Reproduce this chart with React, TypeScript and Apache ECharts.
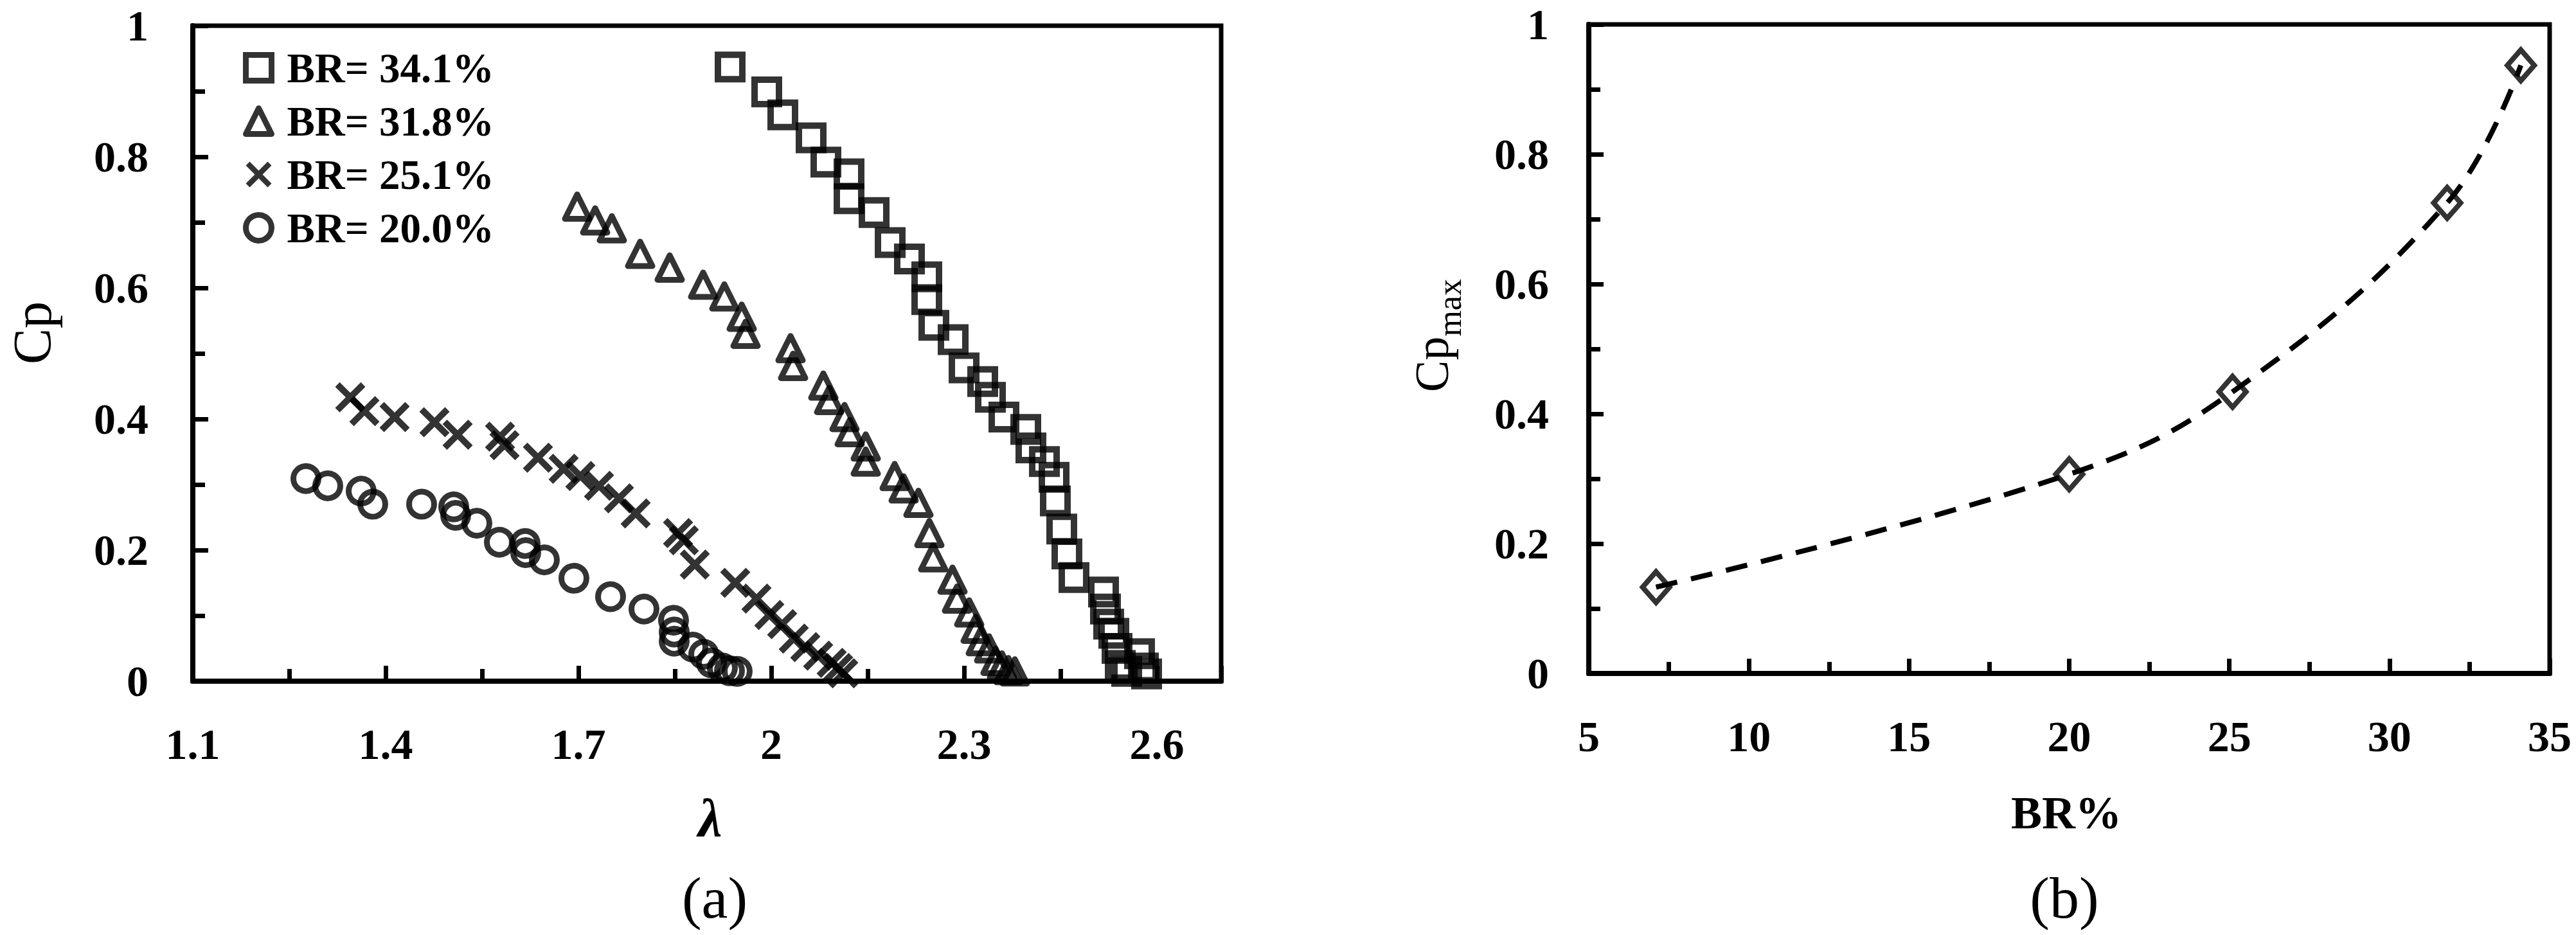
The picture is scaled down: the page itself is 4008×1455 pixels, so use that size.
import React, { useEffect, useRef } from "react";
import * as echarts from "echarts";

// ---------- data: panel (a) Cp vs tip speed ratio ----------
const seriesNames = ["BR= 34.1%", "BR= 31.8%", "BR= 25.1%", "BR= 20.0%"];

const lambda341 = [1.936, 1.993, 2.018, 2.062, 2.085, 2.121, 2.121, 2.16, 2.185, 2.215, 2.242, 2.242, 2.253, 2.283, 2.3, 2.329, 2.341, 2.362, 2.396, 2.404, 2.425, 2.44, 2.442, 2.452, 2.46, 2.471, 2.517, 2.52, 2.525, 2.533, 2.538, 2.573, 2.543, 2.579, 2.553, 2.584];
const cp341 = [0.937, 0.899, 0.864, 0.829, 0.792, 0.774, 0.736, 0.715, 0.669, 0.644, 0.617, 0.582, 0.543, 0.521, 0.478, 0.457, 0.433, 0.403, 0.384, 0.356, 0.335, 0.311, 0.275, 0.232, 0.194, 0.158, 0.136, 0.11, 0.087, 0.073, 0.05, 0.042, 0.024, 0.02, 0.015, 0.011];

const lambda318 = [1.698, 1.726, 1.752, 1.796, 1.842, 1.894, 1.927, 1.954, 1.96, 2.03, 2.034, 2.081, 2.09, 2.114, 2.122, 2.147, 2.147, 2.192, 2.206, 2.229, 2.246, 2.252, 2.282, 2.289, 2.308, 2.318, 2.326, 2.339, 2.349, 2.359, 2.369, 2.379];
const cp318 = [0.724, 0.703, 0.691, 0.652, 0.631, 0.605, 0.587, 0.556, 0.53, 0.508, 0.481, 0.451, 0.429, 0.403, 0.38, 0.358, 0.335, 0.313, 0.294, 0.272, 0.226, 0.189, 0.155, 0.126, 0.105, 0.08, 0.061, 0.05, 0.031, 0.024, 0.017, 0.015];

const lambda251 = [1.345, 1.367, 1.414, 1.476, 1.512, 1.578, 1.585, 1.637, 1.677, 1.703, 1.732, 1.763, 1.789, 1.855, 1.864, 1.881, 1.944, 1.977, 1.997, 2.017, 2.035, 2.053, 2.073, 2.094, 2.104, 2.112];
const cp251 = [0.433, 0.412, 0.403, 0.395, 0.376, 0.373, 0.36, 0.341, 0.324, 0.313, 0.298, 0.279, 0.256, 0.226, 0.215, 0.178, 0.15, 0.126, 0.101, 0.087, 0.065, 0.052, 0.039, 0.028, 0.02, 0.012];

const lambda200 = [1.276, 1.31, 1.362, 1.38, 1.456, 1.506, 1.509, 1.542, 1.577, 1.617, 1.618, 1.647, 1.693, 1.75, 1.802, 1.848, 1.849, 1.849, 1.878, 1.895, 1.907, 1.924, 1.935, 1.947];
const cp200 = [0.309, 0.298, 0.29, 0.27, 0.27, 0.266, 0.253, 0.241, 0.212, 0.21, 0.196, 0.185, 0.157, 0.129, 0.11, 0.093, 0.075, 0.061, 0.052, 0.041, 0.028, 0.02, 0.016, 0.015];

// ---------- data: panel (b) Cp_max vs blockage ratio ----------
const brPercent = [7.1, 20.0, 25.1, 31.8, 34.1];
const cpMax = [0.133, 0.307, 0.434, 0.725, 0.937];

const SERIF = "Liberation Serif, Times New Roman, serif";
const X_PATH =
  "path://M0 15 L15 0 L50 35 L85 0 L100 15 L65 50 L100 85 L85 100 L50 65 L15 100 L0 85 L35 50 Z";
const HOLLOW = "rgba(0,0,0,0)";

const zip = (xs: number[], ys: number[]) => xs.map((x, i) => [x, ys[i]]);

function buildOption() {
  const tickLabel = (margin: number) => ({
    fontFamily: SERIF,
    fontWeight: "bold",
    fontSize: 68,
    color: "#000",
    margin,
  });
  const axisCommon = {
    axisLine: { show: true, onZero: false, lineStyle: { color: "#000", width: 8 } },
    axisTick: { show: true, inside: true, length: 24, lineStyle: { color: "#000", width: 7 } },
    minorTick: { show: true, splitNumber: 2, length: 19, lineStyle: { color: "#000", width: 7 } },
    splitLine: { show: false },
  };
  const textStyle = (font: string, text: string) => ({
    text,
    font,
    fill: "#000",
    align: "center",
    verticalAlign: "middle",
    textAlign: "center",
    textVerticalAlign: "middle",
  });

  return {
    animation: false,
    backgroundColor: "#ffffff",
    grid: [
      { left: 300, top: 40, width: 1600, height: 1020, show: true, borderColor: "#000", borderWidth: 7, backgroundColor: "transparent", containLabel: false, outerBoundsMode: "none" },
      { left: 2472, top: 38, width: 1495, height: 1010, show: true, borderColor: "#000", borderWidth: 7, backgroundColor: "transparent", containLabel: false, outerBoundsMode: "none" },
    ],
    xAxis: [
      {
        type: "value", gridIndex: 0, min: 1.1, max: 2.7, interval: 0.3,
        ...axisCommon,
        axisLabel: { ...tickLabel(64), showMaxLabel: false },
      },
      {
        type: "value", gridIndex: 1, min: 5, max: 35, interval: 5,
        ...axisCommon,
        axisTick: { show: true, inside: true, length: 23, lineStyle: { color: "#000", width: 7 } },
        minorTick: { show: true, splitNumber: 2, length: 18, lineStyle: { color: "#000", width: 7 } },
        axisLabel: tickLabel(64),
      },
    ],
    yAxis: [
      {
        type: "value", gridIndex: 0, min: 0, max: 1, interval: 0.2,
        ...axisCommon,
        axisLabel: tickLabel(69),
      },
      {
        type: "value", gridIndex: 1, min: 0, max: 1, interval: 0.2,
        ...axisCommon,
        axisTick: { show: true, inside: true, length: 23, lineStyle: { color: "#000", width: 7 } },
        minorTick: { show: true, splitNumber: 2, length: 18, lineStyle: { color: "#000", width: 7 } },
        axisLabel: tickLabel(62),
      },
    ],
    legend: {
      orient: "vertical",
      left: 378,
      top: 64,
      padding: 0,
      itemGap: 0,
      itemWidth: 40,
      itemHeight: 40,
      symbolKeepAspect: true,
      selectedMode: false,
      textStyle: {
        fontFamily: SERIF, fontWeight: "bold", fontSize: 65, color: "#000",
        lineHeight: 83, padding: [0, 0, 0, 19],
      },
      data: [
        { name: seriesNames[0], itemStyle: { color: HOLLOW, borderColor: "#000", borderWidth: 9 } },
        { name: seriesNames[1], itemStyle: { color: HOLLOW, borderColor: "#000", borderWidth: 9 } },
        { name: seriesNames[2], itemStyle: { color: "#000", borderColor: "#000", borderWidth: 0 } },
        { name: seriesNames[3], itemStyle: { color: HOLLOW, borderColor: "#000", borderWidth: 9 } },
      ],
    },
    series: [
      {
        name: seriesNames[0], type: "scatter", xAxisIndex: 0, yAxisIndex: 0,
        data: zip(lambda341, cp341), symbol: "rect", symbolSize: 38,
        itemStyle: { color: HOLLOW, borderColor: "#000", borderWidth: 10 },
        emphasis: { disabled: true },
      },
      {
        name: seriesNames[1], type: "scatter", xAxisIndex: 0, yAxisIndex: 0,
        data: zip(lambda318, cp318), symbol: "triangle", symbolSize: [38, 38],
        itemStyle: { color: HOLLOW, borderColor: "#000", borderWidth: 9, borderJoin: "round" },
        emphasis: { disabled: true },
      },
      {
        name: seriesNames[2], type: "scatter", xAxisIndex: 0, yAxisIndex: 0,
        data: zip(lambda251, cp251), symbol: X_PATH, symbolSize: 47,
        itemStyle: { color: "#000", borderWidth: 0 },
        emphasis: { disabled: true },
      },
      {
        name: seriesNames[3], type: "scatter", xAxisIndex: 0, yAxisIndex: 0,
        data: zip(lambda200, cp200), symbol: "circle", symbolSize: 39,
        itemStyle: { color: HOLLOW, borderColor: "#000", borderWidth: 9 },
        emphasis: { disabled: true },
      },
      {
        name: "trend", type: "line", xAxisIndex: 1, yAxisIndex: 1,
        data: zip(brPercent, cpMax), smooth: 0.4, showSymbol: false, symbol: "none",
        lineStyle: { color: "#000", width: 8, type: [34, 22] },
        emphasis: { disabled: true }, z: 2,
      },
      {
        name: "Cpmax", type: "scatter", xAxisIndex: 1, yAxisIndex: 1,
        data: zip(brPercent, cpMax), symbol: "diamond", symbolSize: [42, 48],
        itemStyle: { color: HOLLOW, borderColor: "#000", borderWidth: 8 },
        emphasis: { disabled: true }, z: 3,
      },
    ],
    graphic: [
      { type: "text", x: 50, y: 518, rotation: Math.PI / 2, style: textStyle(`84px ${SERIF}`, "Cp") },
      { type: "text", x: 1105, y: 1272, style: textStyle(`italic bold 84px ${SERIF}`, "λ") },
      { type: "text", x: 1112, y: 1397, style: textStyle(`92px ${SERIF}`, "(a)") },
      { type: "text", x: 3215, y: 1265, style: textStyle(`bold 72px ${SERIF}`, "BR%") },
      { type: "text", x: 3212, y: 1397, style: textStyle(`92px ${SERIF}`, "(b)") },
      {
        type: "text", x: 2244, y: 522, rotation: Math.PI / 2,
        style: {
          text: "{a|Cp}{b|max}",
          align: "center", verticalAlign: "middle", textAlign: "center", textVerticalAlign: "middle",
          fill: "#000",
          rich: {
            a: { fontFamily: SERIF, fontSize: 74, lineHeight: 74, padding: [0, 0, 16, 0], verticalAlign: "bottom", fill: "#000", color: "#000" },
            b: { fontFamily: SERIF, fontSize: 52, lineHeight: 52, verticalAlign: "bottom", fill: "#000", color: "#000" },
          },
        },
      },
    ],
  };
}

export default function App() {
  const ref = useRef<HTMLDivElement>(null);
  useEffect(() => {
    document.body.style.margin = "0";
    if (!ref.current) return;
    const chart = echarts.init(ref.current, null, { renderer: "svg", width: 4008, height: 1455 });
    chart.setOption(buildOption() as any);
    return () => chart.dispose();
  }, []);
  return <div ref={ref} style={{ width: 4008, height: 1455, background: "#fff" }} />;
}
